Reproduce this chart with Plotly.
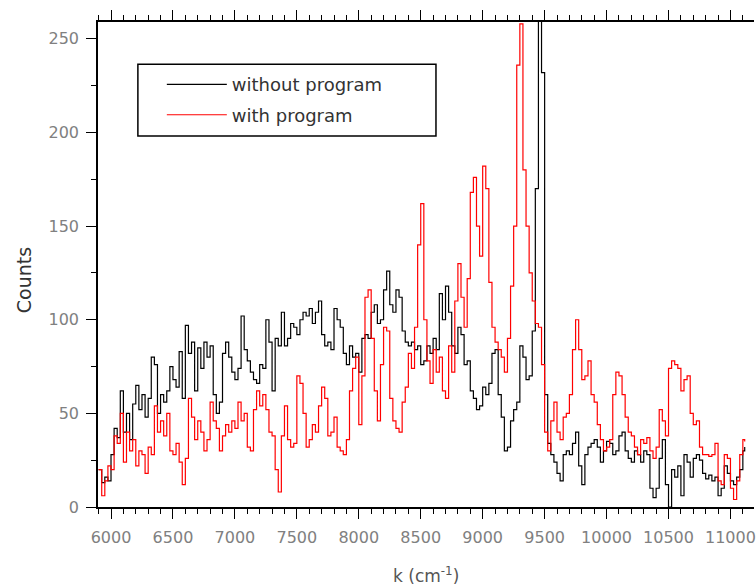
import plotly.graph_objects as go

# Wavenumber grid (cm^-1)
K = [5900, 5925, 5950, 5975, 6000, 6025, 6050, 6075, 6100, 6125, 6150, 6175,
     6200, 6225, 6250, 6275, 6300, 6325, 6350, 6375, 6400, 6425, 6450, 6475,
     6500, 6525, 6550, 6575, 6600, 6625, 6650, 6675, 6700, 6725, 6750, 6775,
     6800, 6825, 6850, 6875, 6900, 6925, 6950, 6975, 7000, 7025, 7050, 7075,
     7100, 7125, 7150, 7175, 7200, 7225, 7250, 7275, 7300, 7325, 7350, 7375,
     7400, 7425, 7450, 7475, 7500, 7525, 7550, 7575, 7600, 7625, 7650, 7675,
     7700, 7725, 7750, 7775, 7800, 7825, 7850, 7875, 7900, 7925, 7950, 7975,
     8000, 8025, 8050, 8075, 8100, 8125, 8150, 8175, 8200, 8225, 8250, 8275,
     8300, 8325, 8350, 8375, 8400, 8425, 8450, 8475, 8500, 8525, 8550, 8575,
     8600, 8625, 8650, 8675, 8700, 8725, 8750, 8775, 8800, 8825, 8850, 8875,
     8900, 8925, 8950, 8975, 9000, 9025, 9050, 9075, 9100, 9125, 9150, 9175,
     9200, 9225, 9250, 9275, 9300, 9325, 9350, 9375, 9400, 9425, 9450, 9475,
     9500, 9525, 9550, 9575, 9600, 9625, 9650, 9675, 9700, 9725, 9750, 9775,
     9800, 9825, 9850, 9875, 9900, 9925, 9950, 9975, 10000, 10025, 10050, 10075,
     10100, 10125, 10150, 10175, 10200, 10225, 10250, 10275, 10300, 10325, 10350, 10375,
     10400, 10425, 10450, 10475, 10500, 10525, 10550, 10575, 10600, 10625, 10650, 10675,
     10700, 10725, 10750, 10775, 10800, 10825, 10850, 10875, 10900, 10925, 10950, 10975,
     11000, 11025, 11050, 11075, 11100, 11115]

without_program = [
    20, 13, 16, 14, 28, 42, 37, 62, 40, 50, 36, 55,
    65, 52, 60, 48, 58, 80, 76, 50, 60, 56, 62, 75,
    68, 64, 83, 58, 97, 82, 88, 62, 85, 74, 88, 80,
    86, 60, 50, 56, 82, 88, 80, 72, 68, 74, 102, 84,
    78, 72, 68, 66, 76, 74, 100, 88, 62, 90, 86, 104,
    86, 90, 98, 96, 92, 100, 104, 102, 106, 98, 104, 110,
    92, 86, 88, 84, 106, 100, 96, 82, 76, 86, 80, 82,
    72, 90, 92, 90, 104, 108, 98, 100, 116, 126, 108, 104,
    116, 112, 94, 88, 86, 88, 84, 86, 76, 78, 86, 82,
    90, 84, 114, 100, 118, 104, 86, 82, 96, 92, 76, 78,
    62, 58, 52, 54, 64, 60, 66, 82, 84, 60, 48, 30,
    32, 46, 52, 56, 86, 80, 68, 70, 94, 170, 262, 232,
    60, 34, 28, 24, 18, 14, 28, 30, 28, 34, 40, 22,
    12, 28, 32, 34, 36, 32, 24, 30, 35, 34, 28, 30,
    38, 40, 30, 26, 24, 30, 28, 24, 30, 28, 10, 5,
    10, 26, 36, 12, 0, 20, 16, 22, 6, 28, 24, 16,
    26, 28, 25, 18, 15, 17, 14, 16, 6, 10, 22, 18,
    14, 12, 16, 20, 30, 32]

with_program = [
    20, 6, 14, 22, 20, 38, 34, 50, 24, 40, 30, 36,
    22, 30, 28, 18, 32, 28, 54, 40, 46, 38, 50, 30,
    28, 34, 24, 12, 26, 58, 48, 36, 46, 40, 30, 36,
    56, 46, 42, 30, 38, 44, 40, 46, 42, 56, 46, 50,
    32, 30, 52, 62, 54, 60, 52, 40, 38, 20, 8, 38,
    54, 36, 32, 34, 70, 66, 50, 32, 36, 44, 40, 54,
    64, 58, 38, 40, 48, 32, 30, 28, 36, 62, 74, 80,
    44, 70, 112, 116, 90, 62, 46, 76, 96, 94, 58, 46,
    42, 40, 56, 64, 82, 74, 96, 140, 162, 100, 78, 66,
    84, 72, 80, 62, 58, 86, 72, 110, 130, 112, 96, 122,
    168, 176, 150, 134, 182, 170, 120, 96, 88, 84, 80, 72,
    90, 118, 150, 236, 258, 180, 150, 125, 110, 98, 96, 76,
    40, 30, 46, 56, 40, 36, 48, 50, 60, 84, 100, 84,
    68, 70, 78, 60, 56, 44, 36, 30, 32, 36, 60, 72,
    70, 60, 48, 40, 38, 32, 28, 36, 34, 37, 30, 26,
    32, 52, 46, 38, 74, 78, 76, 74, 62, 68, 70, 50,
    44, 46, 32, 28, 28, 27, 28, 34, 14, 12, 28, 26,
    10, 4, 14, 28, 36, 35]

x_ticks = [6000, 6500, 7000, 7500, 8000, 8500, 9000, 9500, 10000, 10500, 11000]
x_tick_labels = ["6000", "6500", "7000", "7500", "8000", "8500", "9000", "9500",
                 "10000", "10500", "11000"]
y_ticks = [0, 50, 100, 150, 200, 250]
y_tick_labels = ["0", "50", "100", "150", "200", "250"]

FONT = "DejaVu Sans"
fig = go.Figure()
fig.add_trace(go.Scatter(x=K, y=without_program, mode="lines", name="without program",
                         line=dict(color="#000000", width=1.2, shape="hv"), legendgroup="a"))
fig.add_trace(go.Scatter(x=K, y=with_program, mode="lines", name="with program",
                         line=dict(color="#ff0000", width=1.2, shape="hv"), legendgroup="b"))

axis_common = dict(showgrid=False, zeroline=False, showline=True, linecolor="#000000",
                   linewidth=1.5, ticks="outside", ticklen=10, tickwidth=1.2,
                   tickcolor="#000000", ticklabeloverflow="allow",
                   tickfont=dict(family=FONT, size=16, color="#808080"))

fig.update_layout(
    width=756, height=587,
    margin=dict(l=98, r=0, t=22, b=80),
    paper_bgcolor="white", plot_bgcolor="white",
    showlegend=True,
    legend=dict(x=0.0973, y=0.909, xanchor="left", yanchor="top",
                borderwidth=0, bgcolor="rgba(0,0,0,0)",
                font=dict(family=FONT, size=18, color="#333333"),
                itemwidth=60, tracegroupgap=4),
    xaxis=dict(range=[5895, 11190], tickvals=x_ticks, ticktext=x_tick_labels,
               mirror="ticks", ticklabelstandoff=5,
               minor=dict(dtick=100, tick0=6000, ticks="outside", ticklen=5,
                          tickwidth=1.2, tickcolor="#000000"),
               **axis_common),
    yaxis=dict(range=[0, 259], tickvals=y_ticks, ticktext=y_tick_labels,
               mirror=False, ticklabelstandoff=4,
               minor=dict(dtick=25, tick0=0, ticks="outside", ticklen=5,
                          tickwidth=1.2, tickcolor="#000000"),
               **axis_common),
    shapes=[
        dict(type="rect", xref="paper", yref="paper",
             x0=0.0608, x1=0.5152, y0=0.765, y1=0.913,
             line=dict(color="#000000", width=1.5), fillcolor="white", layer="above"),
    ],
    annotations=[
        dict(text="Counts", xref="paper", yref="paper", x=-0.1125, y=0.468,
             textangle=-90, showarrow=False, xanchor="center", yanchor="middle",
             font=dict(family=FONT, size=19, color="#333333")),
        dict(text="k (cm<sup>-1</sup>)", xref="paper", yref="paper", x=0.5, y=-0.140,
             showarrow=False, xanchor="center", yanchor="middle",
             font=dict(family=FONT, size=17, color="#555555")),
    ],
)

fig.write_html("out.html")
